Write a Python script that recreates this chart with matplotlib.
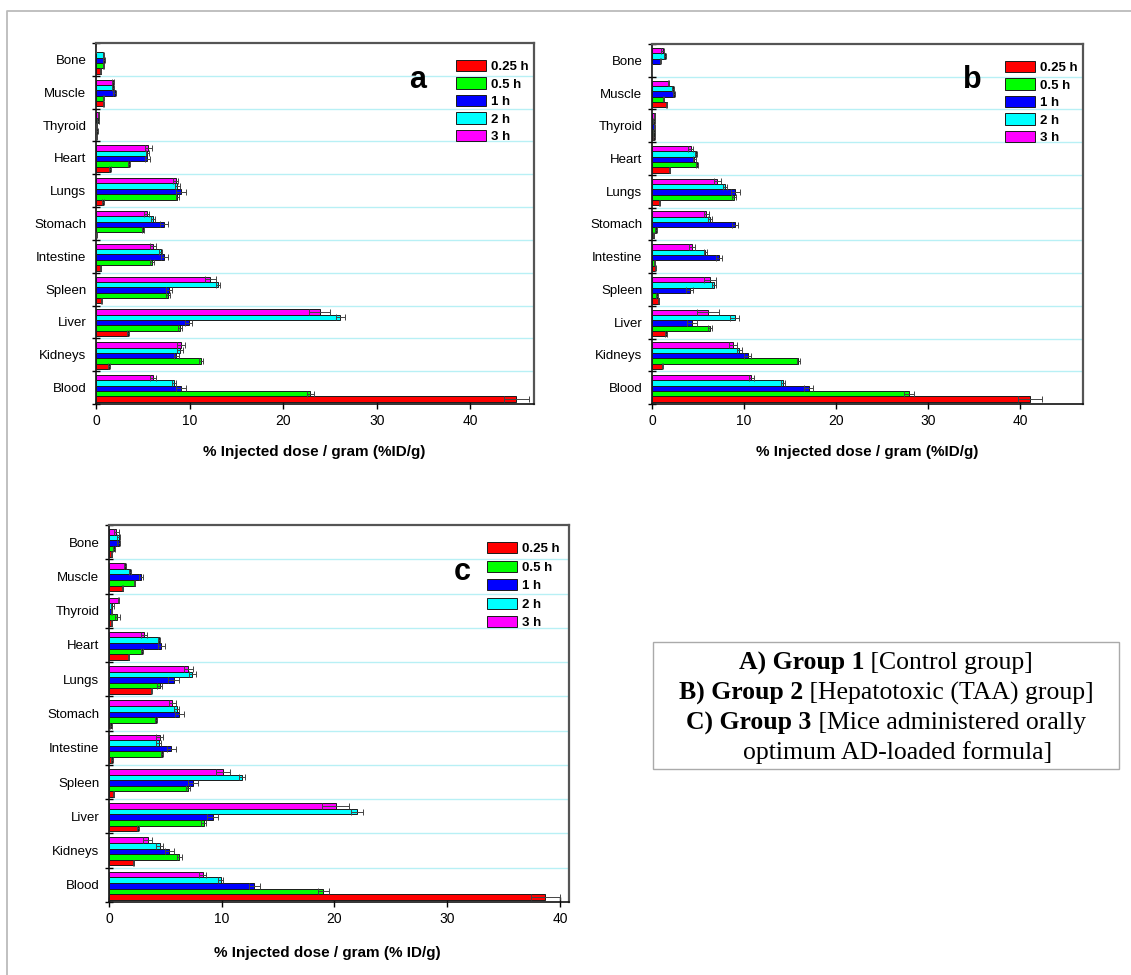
import matplotlib
matplotlib.use("Agg")
import matplotlib.pyplot as plt
import numpy as np
from matplotlib.patches import Rectangle
from matplotlib.lines import Line2D

W, H = 1131, 975

organs = ["Blood", "Kidneys", "Liver", "Spleen", "Intestine", "Stomach",
          "Lungs", "Heart", "Thyroid", "Muscle", "Bone"]
times = ["0.25 h", "0.5 h", "1 h", "2 h", "3 h"]
colors = ["#ff0000", "#00ff00", "#0000ff", "#00ffff", "#ff00ff"]

# Panel a (Group 1, control)
a_t025 = [44.9, 1.4, 3.4, 0.55, 0.5, 0.05, 0.75, 1.5, 0.05, 0.8, 0.5]
a_t05 = [22.9, 11.2, 9.0, 7.7, 6.0, 5.0, 8.7, 3.5, 0.1, 0.8, 0.8]
a_t1 = [9.1, 8.6, 9.9, 7.8, 7.3, 7.25, 9.1, 5.5, 0.1, 2.0, 0.9]
a_t2 = [8.3, 9.0, 26.1, 13.0, 6.9, 6.1, 8.7, 5.5, 0.2, 1.8, 0.8]
a_t3 = [6.1, 9.1, 23.9, 12.2, 6.1, 5.4, 8.5, 5.6, 0.3, 1.8, 0.0]
a_e025 = [1.35, 0.1, 0.1, 0.05, 0.05, 0.05, 0.1, 0.1, 0.02, 0.1, 0.05]
a_e05 = [0.4, 0.2, 0.2, 0.2, 0.2, 0.1, 0.2, 0.1, 0.1, 0.1, 0.1]
a_e1 = [0.5, 0.3, 0.4, 0.3, 0.4, 0.4, 0.5, 0.3, 0.05, 0.15, 0.1]
a_e2 = [0.2, 0.3, 0.5, 0.2, 0.2, 0.2, 0.3, 0.2, 0.1, 0.1, 0.1]
a_e3 = [0.3, 0.4, 1.1, 0.6, 0.3, 0.3, 0.3, 0.35, 0.05, 0.1, 0.0]

# Panel b (Group 2, TAA)
b_t025 = [41.0, 1.1, 1.5, 0.75, 0.35, 0.2, 0.85, 1.95, 0.25, 1.6, 0.0]
b_t05 = [27.9, 15.9, 6.3, 0.5, 0.3, 0.45, 8.9, 4.9, 0.25, 1.25, 0.0]
b_t1 = [17.0, 10.4, 4.35, 4.1, 7.25, 9.0, 9.05, 4.6, 0.25, 2.4, 0.9]
b_t2 = [14.2, 9.5, 9.0, 6.7, 5.8, 6.3, 7.9, 4.8, 0.2, 2.25, 1.45]
b_t3 = [10.8, 8.8, 6.05, 6.3, 4.35, 5.9, 7.1, 4.2, 0.3, 1.8, 1.15]
b_e025 = [1.3, 0.05, 0.1, 0.05, 0.05, 0.05, 0.05, 0.05, 0.1, 0.05, 0.0]
b_e05 = [0.5, 0.2, 0.2, 0.1, 0.05, 0.1, 0.2, 0.1, 0.1, 0.05, 0.0]
b_e1 = [0.5, 0.4, 0.5, 0.4, 0.35, 0.35, 0.5, 0.2, 0.05, 0.1, 0.05]
b_e2 = [0.2, 0.3, 0.5, 0.2, 0.15, 0.2, 0.2, 0.1, 0.1, 0.1, 0.1]
b_e3 = [0.3, 0.4, 1.2, 0.6, 0.3, 0.3, 0.4, 0.3, 0.05, 0.05, 0.15]

# Panel c (Group 3, oral AD-loaded formula)
c_t025 = [38.7, 2.2, 2.6, 0.4, 0.27, 0.2, 3.75, 1.75, 0.25, 1.2, 0.25]
c_t05 = [19.0, 6.25, 8.4, 7.0, 4.7, 4.2, 4.5, 2.95, 0.75, 2.3, 0.45]
c_t1 = [12.9, 5.35, 9.2, 7.45, 5.5, 6.25, 5.75, 4.65, 0.25, 2.85, 0.85]
c_t2 = [9.9, 4.5, 22.0, 11.8, 4.4, 6.0, 7.4, 4.45, 0.3, 1.85, 0.85]
c_t3 = [8.3, 3.45, 20.1, 10.1, 4.5, 5.6, 7.05, 3.1, 0.85, 1.45, 0.65]
c_e025 = [1.3, 0.05, 0.1, 0.05, 0.05, 0.1, 0.05, 0.05, 0.05, 0.05, 0.05]
c_e05 = [0.5, 0.2, 0.2, 0.2, 0.1, 0.1, 0.2, 0.1, 0.2, 0.05, 0.1]
c_e1 = [0.5, 0.4, 0.5, 0.4, 0.4, 0.4, 0.5, 0.3, 0.05, 0.15, 0.1]
c_e2 = [0.2, 0.3, 0.5, 0.3, 0.2, 0.2, 0.3, 0.1, 0.1, 0.1, 0.1]
c_e3 = [0.3, 0.4, 1.2, 0.6, 0.3, 0.3, 0.4, 0.3, 0.05, 0.1, 0.2]

panels = [
    dict(vals=[a_t025, a_t05, a_t1, a_t2, a_t3], errs=[a_e025, a_e05, a_e1, a_e2, a_e3],
         box=(96, 534, 43, 404), xmax=46.8, letter="a", letter_xy=(418, 80),
         leg_xy=(456, 60), label="% Injected dose / gram (%ID/g)", label_x=314, label_y=452),
    dict(vals=[b_t025, b_t05, b_t1, b_t2, b_t3], errs=[b_e025, b_e05, b_e1, b_e2, b_e3],
         box=(652, 1083, 44, 404), xmax=46.8, letter="b", letter_xy=(972, 80),
         leg_xy=(1005, 61), label="% Injected dose / gram (%ID/g)", label_x=867, label_y=452),
    dict(vals=[c_t025, c_t05, c_t1, c_t2, c_t3], errs=[c_e025, c_e05, c_e1, c_e2, c_e3],
         box=(109, 569, 525, 902), xmax=40.8, letter="c", letter_xy=(462, 572),
         leg_xy=(487, 542), label="% Injected dose / gram (% ID/g)", label_x=327, label_y=953),
]

plt.rcParams['font.family'] = ['Liberation Sans', 'DejaVu Sans']

fig = plt.figure(figsize=(W / 100, H / 100), dpi=100)
fig.patch.set_facecolor("white")

def fx(px):
    return px / W

def fy(py):
    return 1 - py / H

y = np.arange(len(organs))
bh = 0.163
offsets = [(i - 2) * bh - 0.025 for i in range(5)]

for p in panels:
    l, r, t, b = p["box"]
    ax = fig.add_axes([fx(l), fy(b), fx(r) - fx(l), fy(t) - fy(b)])
    handles = []
    for i in range(5):
        bars = ax.barh(y + offsets[i], p["vals"][i], height=bh, color=colors[i],
                       edgecolor="#1a1a1a", linewidth=0.7, label=times[i], zorder=3)
        ax.errorbar(p["vals"][i], y + offsets[i], xerr=p["errs"][i], fmt="none",
                    ecolor="#444444", elinewidth=0.7, capsize=2.5, capthick=0.7, zorder=4)
        handles.append(bars)
    for k in range(len(organs) - 1):
        ax.axhline(k + 0.5, color="#b8f0f5", linewidth=1.0, zorder=1)
    ax.set_ylim(-0.5, len(organs) - 0.5)
    ax.set_xlim(0, p["xmax"])
    ax.set_xticks([0, 10, 20, 30, 40])
    ax.set_yticks(np.arange(-0.5, len(organs), 1.0))
    ax.set_yticklabels([])
    ax.set_yticks(y, minor=True)
    ax.set_yticklabels(organs, minor=True, fontsize=9.5)
    ax.tick_params(axis="y", which="minor", length=0, pad=7)
    ax.tick_params(axis="y", which="major", direction="inout", length=6, width=1)
    ax.tick_params(axis="x", which="major", direction="inout", length=7, width=1,
                   labelsize=10, pad=4)
    for side in ["left", "bottom"]:
        ax.spines[side].set_color("#111111")
        ax.spines[side].set_linewidth(1.2)
    for side in ["top", "right"]:
        ax.spines[side].set_color("#555555")
        ax.spines[side].set_linewidth(1.6)
    ax.set_xlabel(p["label"], fontsize=11, fontweight="bold")
    ax.xaxis.set_label_coords((p["label_x"] - l) / (r - l), (b - p["label_y"]) / (b - t))
    ax.xaxis.label.set_va("center")
    lx, ly = p["letter_xy"]
    fig.text(fx(lx), fy(ly), p["letter"], fontsize=22, fontweight="bold",
             ha="center", va="center")
    gx, gy = p["leg_xy"]
    leg = ax.legend(handles=handles, loc="upper left",
                    bbox_to_anchor=(fx(gx), fy(gy)), bbox_transform=fig.transFigure,
                    frameon=False, borderpad=0, borderaxespad=0,
                    handlelength=2.3, handleheight=0.95, handletextpad=0.35,
                    labelspacing=0.32 if p["letter"] != "c" else 0.4,
                    prop=dict(weight="bold", size=9.5))

# Figure frame (top and left)
fig.add_artist(Line2D([fx(7), fx(7), fx(W)], [0, fy(11), fy(11)],
                      transform=fig.transFigure, color="#bbbbbb", linewidth=1.3))

# Text box with group descriptions
fig.add_artist(Rectangle((fx(653), fy(769)), fx(1119) - fx(653), fy(642) - fy(769),
                         transform=fig.transFigure, facecolor="white",
                         edgecolor="#aaaaaa", linewidth=1.0))

lines = [
    ("A) Group 1", " [Control group]", 886, 663),
    ("B) Group 2", " [Hepatotoxic (TAA) group]", 886, 693),
    ("C) Group 3", " [Mice administered orally", 886, 723),
    ("", "optimum AD-loaded formula]", 898, 753),
]
fig.canvas.draw()
renderer = fig.canvas.get_renderer()
serif = ['Liberation Serif', 'DejaVu Serif']
for bold, reg, cx, cy in lines:
    tb = fig.text(0, fy(cy), bold, fontsize=18.5, fontweight="bold", family=serif,
                  ha="left", va="center")
    tr = fig.text(0, fy(cy), reg, fontsize=18.5, family=serif, ha="left", va="center")
    wb = tb.get_window_extent(renderer).width if bold else 0.0
    wr = tr.get_window_extent(renderer).width
    x0 = cx - (wb + wr) / 2
    tb.set_x(fx(x0))
    tr.set_x(fx(x0 + wb))

fig.savefig("out.png", dpi=100)
